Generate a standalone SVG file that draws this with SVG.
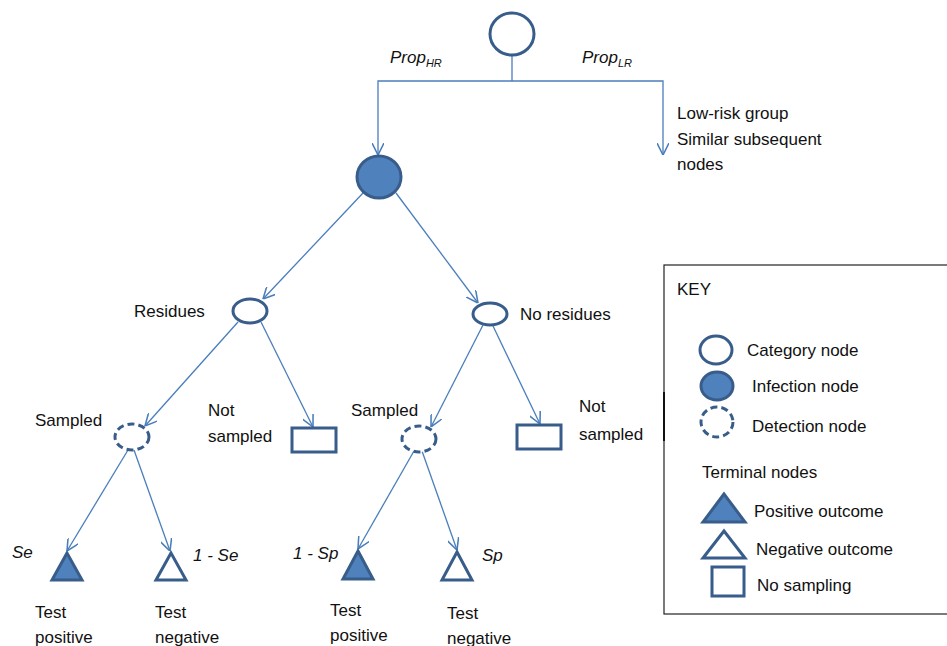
<svg xmlns="http://www.w3.org/2000/svg" width="947" height="646" viewBox="0 0 947 646">
  <defs>
    <marker id="arrow" markerWidth="12" markerHeight="12" refX="10" refY="5" viewBox="0 0 10 10" orient="auto" markerUnits="userSpaceOnUse">
      <path d="M0,0 L10,5 L0,10" fill="none" stroke="#4a7ebb" stroke-width="1.3"/>
    </marker>
    <style>
      .edge { stroke: #4a7ebb; stroke-width: 1.3; fill: none; }
      .arr { marker-end: url(#arrow); }
      .cat { fill: #ffffff; stroke: #385d8a; stroke-width: 3; }
      .inf { fill: #4f81bd; stroke: #385d8a; stroke-width: 3; }
      .det { fill: #ffffff; stroke: #385d8a; stroke-width: 3; stroke-dasharray: 7 4; }
      .pos { fill: #4f81bd; stroke: #385d8a; stroke-width: 3; stroke-linejoin: miter; }
      .neg { fill: #ffffff; stroke: #385d8a; stroke-width: 3; stroke-linejoin: miter; }
      .box { fill: #ffffff; stroke: #385d8a; stroke-width: 3; }
      text { font-family: "Liberation Sans", Arial, sans-serif; font-size: 17px; fill: #111111; }
      .it { font-style: italic; }
      .sub { font-size: 11px; font-style: italic; }
    </style>
  </defs>

  <rect width="947" height="646" fill="#ffffff"/>

  <!-- connectors -->
  <g id="connectors">
    <line class="edge" x1="512" y1="56" x2="512" y2="81"/>
    <polyline class="edge arr" points="512,81 378,81 378,155"/>
    <polyline class="edge arr" points="512,81 663,81 663,155"/>
    <line class="edge arr" x1="363" y1="193" x2="263" y2="299"/>
    <line class="edge arr" x1="396" y1="193" x2="478" y2="303"/>
    <line class="edge arr" x1="238" y1="322" x2="145" y2="426"/>
    <line class="edge arr" x1="261" y1="322" x2="313" y2="427"/>
    <line class="edge arr" x1="483" y1="325" x2="431" y2="427"/>
    <line class="edge arr" x1="493" y1="326" x2="540" y2="424"/>
    <line class="edge arr" x1="128" y1="450" x2="67" y2="551"/>
    <line class="edge arr" x1="134" y1="450" x2="170" y2="551"/>
    <line class="edge arr" x1="414" y1="451" x2="358" y2="549"/>
    <line class="edge arr" x1="422" y1="451" x2="457" y2="550"/>
  </g>

  <!-- edge labels -->
  <g id="edge-labels">
    <text class="it" x="390" y="63">Prop<tspan class="sub" dy="4">HR</tspan></text>
    <text class="it" x="582" y="63">Prop<tspan class="sub" dy="4">LR</tspan></text>
    <text class="it" x="12" y="558">Se</text>
    <text class="it" x="193" y="561">1 - Se</text>
    <text class="it" x="293" y="559">1 - Sp</text>
    <text class="it" x="482" y="561">Sp</text>
  </g>

  <!-- root category node -->
  <g id="root">
    <ellipse class="cat" cx="512" cy="34" rx="22" ry="21"/>
  </g>

  <!-- low-risk branch note -->
  <g id="low-risk">
    <text x="677" y="119">Low-risk group</text>
    <text x="677" y="145">Similar subsequent</text>
    <text x="677" y="170">nodes</text>
  </g>

  <!-- infection node -->
  <g id="infection">
    <ellipse class="inf" cx="379" cy="177" rx="22" ry="21"/>
  </g>

  <!-- residues category nodes -->
  <g id="residues">
    <ellipse class="cat" cx="250" cy="311" rx="17" ry="12"/>
    <text x="134" y="317">Residues</text>
  </g>
  <g id="no-residues">
    <ellipse class="cat" cx="490" cy="314" rx="17" ry="11"/>
    <text x="520" y="320">No residues</text>
  </g>

  <!-- detection nodes -->
  <g id="sampled-1">
    <ellipse class="det" cx="132" cy="437" rx="17" ry="13"/>
    <text x="35" y="426">Sampled</text>
  </g>
  <g id="sampled-2">
    <ellipse class="det" cx="419" cy="439" rx="17" ry="13"/>
    <text x="351" y="416">Sampled</text>
  </g>

  <!-- no-sampling terminals -->
  <g id="not-sampled-1">
    <rect class="box" x="292" y="428" width="44" height="24"/>
    <text x="208" y="416">Not</text>
    <text x="208" y="442">sampled</text>
  </g>
  <g id="not-sampled-2">
    <rect class="box" x="517" y="425" width="44" height="24"/>
    <text x="579" y="412">Not</text>
    <text x="579" y="440">sampled</text>
  </g>

  <!-- test outcome terminals -->
  <g id="test-positive-1">
    <polygon class="pos" points="67,553 52,580 82,580"/>
    <text x="35" y="618">Test</text>
    <text x="35" y="643">positive</text>
  </g>
  <g id="test-negative-1">
    <polygon class="neg" points="171,553 156,580 186,580"/>
    <text x="155" y="618">Test</text>
    <text x="155" y="643">negative</text>
  </g>
  <g id="test-positive-2">
    <polygon class="pos" points="358,551 343,579 373,579"/>
    <text x="330" y="616">Test</text>
    <text x="330" y="641">positive</text>
  </g>
  <g id="test-negative-2">
    <polygon class="neg" points="457,552 442,580 472,580"/>
    <text x="447" y="619">Test</text>
    <text x="447" y="644">negative</text>
  </g>

  <!-- legend -->
  <g id="key">
    <rect x="664" y="265" width="300" height="349" fill="#ffffff" stroke="#222222" stroke-width="1.2"/>
    <line x1="664" y1="392" x2="664" y2="441" stroke="#111111" stroke-width="2"/>
    <text x="677" y="295">KEY</text>
    <ellipse class="cat" cx="716" cy="350" rx="16" ry="14"/>
    <text x="747" y="356">Category node</text>
    <ellipse class="inf" cx="717" cy="386" rx="16" ry="14"/>
    <text x="752" y="392">Infection  node</text>
    <ellipse class="det" cx="717" cy="422" rx="16" ry="15" stroke-dasharray="6 3.5"/>
    <text x="752" y="432">Detection node</text>
    <text x="702" y="478">Terminal nodes</text>
    <polygon class="pos" points="724,494 703,522 745,522"/>
    <text x="754" y="517">Positive outcome</text>
    <polygon class="neg" points="724,531 703,558 745,558"/>
    <text x="756" y="555">Negative outcome</text>
    <rect class="box" x="712" y="567" width="32" height="29"/>
    <text x="757" y="591">No sampling</text>
  </g>
</svg>
